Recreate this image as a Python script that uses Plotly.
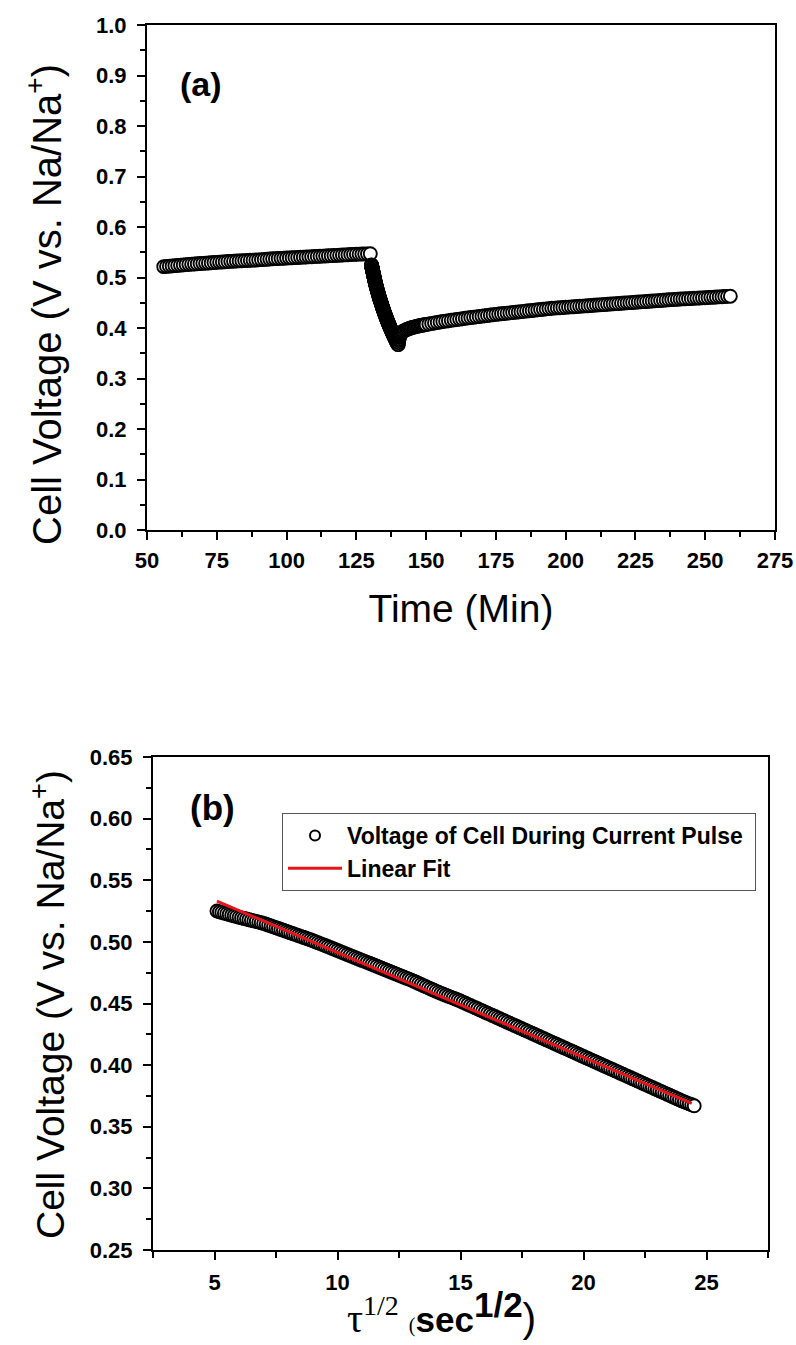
import plotly.graph_objects as go

# ---------------- Panel (a): cell voltage vs time ----------------
rest_time_min = [56, 57, 58, 59, 60, 61, 62, 63, 64, 65, 66, 67, 68, 69, 70, 71, 72, 73, 74, 75,
                 76, 77, 78, 79, 80, 81, 82, 83, 84, 85, 86, 87, 88, 89, 90, 91, 92, 93, 94, 95,
                 96, 97, 98, 99, 100, 101, 102, 103, 104, 105, 106, 107, 108, 109, 110, 111, 112,
                 113, 114, 115, 116, 117, 118, 119, 120, 121, 122, 123, 124, 125, 126, 127, 128,
                 129, 130]
rest_voltage = [0.5215, 0.5220, 0.5225, 0.5230, 0.5235, 0.5240, 0.5245, 0.5250, 0.5255, 0.5260,
                0.5264, 0.5268, 0.5272, 0.5276, 0.5280, 0.5284, 0.5288, 0.5292, 0.5296, 0.5300,
                0.5304, 0.5308, 0.5312, 0.5316, 0.5320, 0.5323, 0.5326, 0.5329, 0.5332, 0.5335,
                0.5338, 0.5341, 0.5344, 0.5347, 0.5350, 0.5354, 0.5358, 0.5362, 0.5366, 0.5370,
                0.5373, 0.5376, 0.5379, 0.5382, 0.5385, 0.5388, 0.5391, 0.5394, 0.5397, 0.5400,
                0.5403, 0.5406, 0.5409, 0.5412, 0.5415, 0.5418, 0.5421, 0.5424, 0.5427, 0.5430,
                0.5433, 0.5436, 0.5439, 0.5442, 0.5445, 0.5448, 0.5451, 0.5454, 0.5457, 0.5460,
                0.5462, 0.5464, 0.5466, 0.5468, 0.5470]

pulse_start_min = 130.0

relax_time_min = [140.1, 140.2, 140.3, 140.4, 140.5, 140.6, 140.8, 141.0, 141.3, 141.6, 142.0,
                  142.5, 143.0, 143.5, 144.0, 144.5, 145.0, 145.5, 146.0, 146.5, 147.0, 147.5,
                  148.0, 148.5, 149.0, 149.5, 150, 151, 152, 153, 154, 155,
                  156, 157, 158, 159, 160, 161, 162, 163, 164, 165, 166, 167, 168, 169, 170, 171,
                  172, 173, 174, 175, 176, 177, 178, 179, 180, 181, 182, 183, 184, 185, 186, 187,
                  188, 189, 190, 191, 192, 193, 194, 195, 196, 197, 198, 199, 200, 201, 202, 203,
                  204, 205, 206, 207, 208, 209, 210, 211, 212, 213, 214, 215, 216, 217, 218, 219,
                  220, 221, 222, 223, 224, 225, 226, 227, 228, 229, 230, 231, 232, 233, 234, 235,
                  236, 237, 238, 239, 240, 241, 242, 243, 244, 245, 246, 247, 248, 249, 250, 251,
                  252, 253, 254, 255, 256, 257, 258, 259]
relax_voltage = [0.3710, 0.3750, 0.3780, 0.3810, 0.3830, 0.3850, 0.3870, 0.3890, 0.3910, 0.3930,
                 0.3940, 0.3955, 0.3970, 0.3980, 0.3990, 0.4000, 0.4010, 0.4017, 0.4023, 0.4030,
                 0.4037, 0.4044, 0.4050, 0.4055, 0.4060, 0.4065, 0.4070, 0.4080, 0.4090, 0.4100,
                 0.4110, 0.4120, 0.4128, 0.4136, 0.4144, 0.4152,
                 0.4160, 0.4168, 0.4176, 0.4184, 0.4192, 0.4200, 0.4207, 0.4214, 0.4221, 0.4228,
                 0.4235, 0.4242, 0.4249, 0.4256, 0.4263, 0.4270, 0.4276, 0.4282, 0.4288, 0.4294,
                 0.4300, 0.4306, 0.4312, 0.4318, 0.4324, 0.4330, 0.4336, 0.4342, 0.4348, 0.4354,
                 0.4360, 0.4366, 0.4372, 0.4378, 0.4384, 0.4390, 0.4394, 0.4398, 0.4402, 0.4406,
                 0.4410, 0.4414, 0.4418, 0.4422, 0.4426, 0.4430, 0.4434, 0.4438, 0.4442, 0.4446,
                 0.4450, 0.4454, 0.4458, 0.4462, 0.4466, 0.4470, 0.4474, 0.4478, 0.4482, 0.4486,
                 0.4490, 0.4494, 0.4498, 0.4502, 0.4506, 0.4510, 0.4514, 0.4518, 0.4522, 0.4526,
                 0.4530, 0.4534, 0.4538, 0.4542, 0.4546, 0.4550, 0.4554, 0.4558, 0.4562, 0.4566,
                 0.4570, 0.4573, 0.4576, 0.4579, 0.4582, 0.4585, 0.4588, 0.4591, 0.4594, 0.4597,
                 0.4600, 0.4603, 0.4607, 0.4610, 0.4613, 0.4617, 0.4620, 0.4623, 0.4627, 0.4630]

# ---------------- Panel (b): voltage during the current pulse ----------------
sqrt_tau = [5.1, 5.2, 5.3, 5.4, 5.5, 5.6, 5.7, 5.8, 5.9, 6.0,
            6.1, 6.2, 6.3, 6.4, 6.5, 6.6, 6.7, 6.8, 6.9, 7.0,
            7.1, 7.2, 7.3, 7.4, 7.5, 7.6, 7.7, 7.8, 7.9, 8.0,
            8.1, 8.2, 8.3, 8.4, 8.5, 8.6, 8.7, 8.8, 8.9, 9.0,
            9.1, 9.2, 9.3, 9.4, 9.5, 9.6, 9.7, 9.8, 9.9, 10.0,
            10.1, 10.2, 10.3, 10.4, 10.5, 10.6, 10.7, 10.8, 10.9, 11.0,
            11.1, 11.2, 11.3, 11.4, 11.5, 11.6, 11.7, 11.8, 11.9, 12.0,
            12.1, 12.2, 12.3, 12.4, 12.5, 12.6, 12.7, 12.8, 12.9, 13.0,
            13.1, 13.2, 13.3, 13.4, 13.5, 13.6, 13.7, 13.8, 13.9, 14.0,
            14.1, 14.2, 14.3, 14.4, 14.5, 14.6, 14.7, 14.8, 14.9, 15.0,
            15.1, 15.2, 15.3, 15.4, 15.5, 15.6, 15.7, 15.8, 15.9, 16.0,
            16.1, 16.2, 16.3, 16.4, 16.5, 16.6, 16.7, 16.8, 16.9, 17.0,
            17.1, 17.2, 17.3, 17.4, 17.5, 17.6, 17.7, 17.8, 17.9, 18.0,
            18.1, 18.2, 18.3, 18.4, 18.5, 18.6, 18.7, 18.8, 18.9, 19.0,
            19.1, 19.2, 19.3, 19.4, 19.5, 19.6, 19.7, 19.8, 19.9, 20.0,
            20.1, 20.2, 20.3, 20.4, 20.5, 20.6, 20.7, 20.8, 20.9, 21.0,
            21.1, 21.2, 21.3, 21.4, 21.5, 21.6, 21.7, 21.8, 21.9, 22.0,
            22.1, 22.2, 22.3, 22.4, 22.5, 22.6, 22.7, 22.8, 22.9, 23.0,
            23.1, 23.2, 23.3, 23.4, 23.5, 23.6, 23.7, 23.8, 23.9, 24.0,
            24.1, 24.2, 24.3, 24.4, 24.5]
pulse_voltage = [0.5250, 0.5244, 0.5239, 0.5233, 0.5228, 0.5222, 0.5217, 0.5211, 0.5206, 0.5200,
                 0.5195, 0.5190, 0.5185, 0.5180, 0.5175, 0.5170, 0.5165, 0.5160, 0.5155, 0.5150,
                 0.5143, 0.5136, 0.5129, 0.5122, 0.5115, 0.5108, 0.5101, 0.5094, 0.5087, 0.5080,
                 0.5073, 0.5066, 0.5059, 0.5052, 0.5045, 0.5038, 0.5031, 0.5024, 0.5017, 0.5010,
                 0.5002, 0.4994, 0.4986, 0.4978, 0.4970, 0.4962, 0.4954, 0.4946, 0.4938, 0.4930,
                 0.4922, 0.4914, 0.4906, 0.4898, 0.4890, 0.4882, 0.4874, 0.4866, 0.4858, 0.4850,
                 0.4842, 0.4834, 0.4826, 0.4818, 0.4810, 0.4802, 0.4794, 0.4786, 0.4778, 0.4770,
                 0.4762, 0.4754, 0.4746, 0.4738, 0.4730, 0.4722, 0.4714, 0.4706, 0.4698, 0.4690,
                 0.4681, 0.4672, 0.4663, 0.4654, 0.4645, 0.4636, 0.4627, 0.4618, 0.4609, 0.4600,
                 0.4592, 0.4584, 0.4576, 0.4568, 0.4560, 0.4552, 0.4544, 0.4536, 0.4528, 0.4520,
                 0.4511, 0.4502, 0.4493, 0.4484, 0.4475, 0.4466, 0.4457, 0.4448, 0.4439, 0.4430,
                 0.4421, 0.4412, 0.4403, 0.4394, 0.4385, 0.4376, 0.4367, 0.4358, 0.4349, 0.4340,
                 0.4331, 0.4322, 0.4313, 0.4304, 0.4295, 0.4286, 0.4277, 0.4268, 0.4259, 0.4250,
                 0.4241, 0.4232, 0.4223, 0.4214, 0.4205, 0.4196, 0.4187, 0.4178, 0.4169, 0.4160,
                 0.4151, 0.4142, 0.4133, 0.4124, 0.4115, 0.4106, 0.4097, 0.4088, 0.4079, 0.4070,
                 0.4061, 0.4052, 0.4043, 0.4034, 0.4025, 0.4016, 0.4007, 0.3998, 0.3989, 0.3980,
                 0.3971, 0.3962, 0.3953, 0.3944, 0.3935, 0.3926, 0.3917, 0.3908, 0.3899, 0.3890,
                 0.3881, 0.3872, 0.3863, 0.3854, 0.3845, 0.3836, 0.3827, 0.3818, 0.3809, 0.3800,
                 0.3791, 0.3782, 0.3773, 0.3764, 0.3755, 0.3746, 0.3737, 0.3728, 0.3719, 0.3710,
                 0.3702, 0.3694, 0.3686, 0.3678, 0.3670]

fit_sqrt_tau = [5.1, 24.4]
fit_voltage = [0.533, 0.369]

legend_data_label = "<b>Voltage of Cell During Current Pulse</b> "
legend_fit_label = "<b>Linear Fit</b>"

# pulse section of panel (a): tau (s) = sqrt_tau^2, converted to minutes
pulse_time_min = [pulse_start_min + s * s / 60.0 for s in sqrt_tau]

time_a = rest_time_min + pulse_time_min + relax_time_min
volt_a = rest_voltage + pulse_voltage + relax_voltage

W, H = 796, 1345
SANS = "Liberation Sans, Arial, Helvetica, sans-serif"

marker_style = dict(symbol="circle", size=13, color="white",
                    line=dict(color="black", width=1.9))

fig = go.Figure()
fig.add_trace(go.Scatter(x=time_a, y=volt_a, mode="markers", marker=marker_style,
                         xaxis="x", yaxis="y", showlegend=False))
fig.add_trace(go.Scatter(x=sqrt_tau, y=pulse_voltage, mode="markers", marker=marker_style,
                         xaxis="x2", yaxis="y2", showlegend=False))
fig.add_trace(go.Scatter(x=[None], y=[None], mode="markers", name=legend_data_label,
                         marker=dict(symbol="circle", size=10, color="white",
                                     line=dict(color="black", width=2)),
                         xaxis="x2", yaxis="y2", showlegend=True))
fig.add_trace(go.Scatter(x=fit_sqrt_tau, y=fit_voltage, mode="lines", name=legend_fit_label,
                         line=dict(color="#e8141b", width=3),
                         xaxis="x2", yaxis="y2", showlegend=True))

tickfont = dict(family=SANS, size=22, color="black", weight="bold")
common = dict(showline=True, linecolor="black", linewidth=2, mirror=True,
              ticks="outside", ticklen=8, tickwidth=1.5, tickcolor="black",
              showgrid=False, zeroline=False, tickfont=tickfont, automargin=False)

ytitle = "Cell Voltage (V vs. Na/Na<sup>+</sup>)"

xtitle_b = ("<span style='font-family:Liberation Serif;font-size:40px'>τ<sup>1/2</sup> </span>"
            "<span style='font-family:Liberation Serif;font-size:20px'>(</span>"
            "<span style='font-size:35px'><b>sec<sup><span style='font-size:35px'>1/2</span></sup></b></span>"
            "<span style='font-size:41px'>)</span>")

fig.update_layout(
    width=W, height=H,
    margin=dict(l=0, r=0, t=0, b=0),
    paper_bgcolor="white", plot_bgcolor="white",
    xaxis=dict(domain=[147 / W, 775 / W], anchor="y", range=[50, 275],
               tick0=50, dtick=25,
               minor=dict(dtick=12.5, ticks="outside", ticklen=5, tickwidth=1.5, tickcolor="black"),
               ticklabelstandoff=2,
               title=dict(text="Time (Min)", font=dict(family=SANS, size=39, color="black"),
                          standoff=22),
               **common),
    yaxis=dict(domain=[1 - 530 / H, 1 - 25 / H], anchor="x", range=[0, 1.0],
               tick0=0, dtick=0.1, tickformat=".1f",
               minor=dict(dtick=0.05, ticks="outside", ticklen=5, tickwidth=1.5, tickcolor="black"),
               ticklabelstandoff=6,
               **common),
    xaxis2=dict(domain=[153 / W, 768 / W], anchor="y2", range=[2.5, 27.5],
                tick0=0, dtick=5,
                minor=dict(dtick=2.5, ticks="outside", ticklen=6, tickwidth=1.5, tickcolor="black"),
                ticklabelstandoff=4,
                **common),
    yaxis2=dict(domain=[1 - 1250 / H, 1 - 757 / H], anchor="x2", range=[0.25, 0.65],
                tick0=0.25, dtick=0.05, tickformat=".2f",
                minor=dict(dtick=0.025, ticks="outside", ticklen=5, tickwidth=1.5, tickcolor="black"),
                ticklabelstandoff=6,
                **common),
    legend=dict(x=282 / W, y=1 - 813 / H, xanchor="left", yanchor="top",
                bgcolor="white", bordercolor="#555555", borderwidth=1,
                font=dict(family=SANS, size=23, color="black"),
                itemwidth=54, tracegroupgap=0),
    annotations=[
        dict(text="<b>(a)</b>", x=201 / W, y=1 - 84 / H, xref="paper", yref="paper",
             showarrow=False, xanchor="center", yanchor="middle",
             font=dict(family=SANS, size=34, color="black")),
        dict(text="<b>(b)</b>", x=212 / W, y=1 - 807 / H, xref="paper", yref="paper",
             showarrow=False, xanchor="center", yanchor="middle",
             font=dict(family=SANS, size=35, color="black")),
        # y-axis titles
        dict(text=ytitle, x=44 / W, y=1 - 305 / H, xref="paper", yref="paper",
             showarrow=False, textangle=-90, xanchor="center", yanchor="middle",
             font=dict(family=SANS, size=40, color="black")),
        dict(text=ytitle, x=47 / W, y=1 - 1005 / H, xref="paper", yref="paper",
             showarrow=False, textangle=-90, xanchor="center", yanchor="middle",
             font=dict(family=SANS, size=39, color="black")),
        # x-axis title of panel (b)
        dict(text=xtitle_b, x=345 / W, y=1 - 1313 / H, xref="paper", yref="paper",
             showarrow=False, xanchor="left", yanchor="middle",
             font=dict(family=SANS, size=35, color="black")),
    ],
)

fig.write_html("out.html", config={"displayModeBar": False},
               post_script="document.body.style.margin='0px';")
